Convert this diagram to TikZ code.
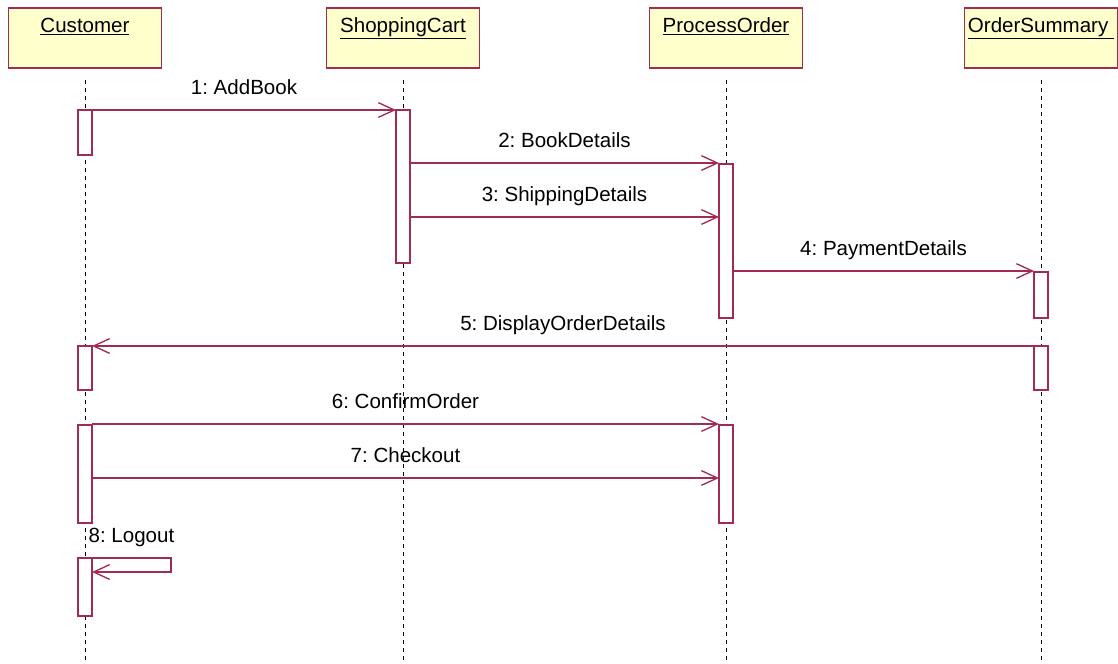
\documentclass[tikz,border=0pt]{standalone}
\usepackage{fontspec}
\setmainfont{Liberation Sans}
\usetikzlibrary{arrows.meta}
\definecolor{umlred}{HTML}{A32A50}
\definecolor{umlfill}{HTML}{FFFFCC}
\frenchspacing

\begin{document}
\begin{tikzpicture}[x=0.75pt,y=-0.75pt,
	>={Straight Barb[length=12pt,width=11pt]},
	font=\fontsize{15.4}{18}\selectfont,
	actor/.style={draw=umlred,fill=umlfill,line width=1pt,minimum width=114.75pt,minimum height=45pt,inner sep=0pt},
	lifeline/.style={black,line width=0.75pt,dash pattern=on 3pt off 3pt},
	bar/.style={draw=umlred,fill=white,line width=1pt,minimum width=10.5pt,inner sep=0pt,outer sep=0pt},
	msg/.style={->,umlred,line width=1pt},
	msglabel/.style={black,anchor=base,yshift=11.5pt}]
	\useasboundingbox (0,0) rectangle (1118,664);
	\foreach \n/\x/\t in {
			cust/85/Customer,
			cart/403/ShoppingCart,
			proc/726/ProcessOrder,
			summ/1041/OrderSummary
			} {
		\node[actor,label={[anchor=base,yshift=-18.75pt]north:\underline{\t}}] (\n) at (\x,38) {};
		\draw[lifeline] (\n |- 0,80) -- (\n |- 0,664);
	};
	\foreach \n/\a/\t/\b in {
			c1/cust/110/155, s1/cart/110/263, p1/proc/164/318,
			o1/summ/272/318, c2/cust/346/390, o2/summ/346/390,
			c3/cust/425/523, p2/proc/425/523, c4/cust/558/616
			} {
		\node[bar,minimum height={0.75pt*(\b-\t)}] (\n) at (\a |- 0,{(\t+\b)/2}) {};
	};
	\foreach \f/\g/\y/\l in {
			c1.east/s1.west/110/1: AddBook,
			s1.east/p1.west/163/2: BookDetails,
			s1.east/p1.west/217/3: ShippingDetails,
			p1.east/o1.west/271/4: PaymentDetails,
			o2.west/c2.east/346/5: DisplayOrderDetails,
			c3.east/p2.west/424/6: ConfirmOrder,
			c3.east/p2.west/478/7: Checkout
			} {
		\draw[msg] (\f |- 0,\y) -- node[msglabel,pos=0.5]{\l} (\g |- 0,\y);
	};
	\draw[msg] (c4.north east) -- node[msglabel]{8: Logout} ++(79,0) -- ++(0,14)
		-- (c4.east |- 0,572);
\end{tikzpicture}
\end{document}
